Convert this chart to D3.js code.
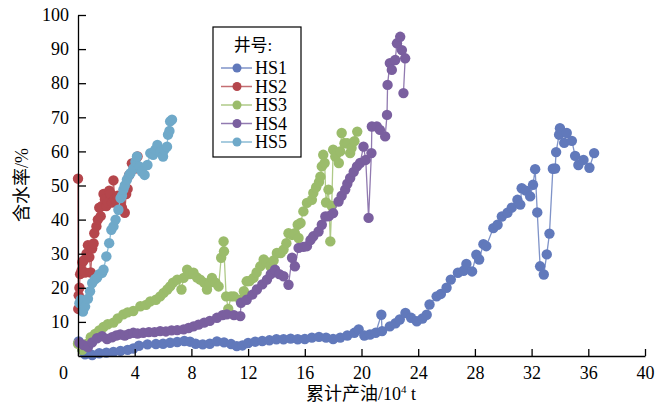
<!DOCTYPE html>
<html>
<head>
<meta charset="utf-8">
<script src="https://cdn.jsdelivr.net/npm/d3@7"></script>
<style>
  body { margin: 0; background: #fff; }
  text { font-family: "Liberation Serif", "Noto Sans CJK SC", serif; fill: #000; }
  .cjk { font-family: "Liberation Serif", "Noto Sans CJK SC", serif; }
</style>
</head>
<body>
<div id="chart"></div>
<script>
// tick values
var xTicks = [0, 4, 8, 12, 16, 20, 24, 28, 32, 36, 40];
var yTicks = [10, 20, 30, 40, 50, 60, 70, 80, 90, 100];

// well names
var wells = ["HS1", "HS2", "HS3", "HS4", "HS5"];

// cumulative oil (10^4 t) and water cut (%) per well
var hs1X = [0.05, 0.3, 0.5, 1, 1.5, 2, 2.5, 3, 3.5, 3.9, 4.3, 4.9, 5.5, 6, 6.5, 7, 7.5, 7.9, 8.3, 8.8, 9.3, 9.8, 10.3, 10.8, 11.2, 11.6, 12, 12.5, 13, 13.5, 14, 14.5, 15, 15.5, 16, 16.5, 17, 17.5, 18, 18.5, 19, 19.5, 19.8, 20.2, 20.6, 21, 21.4, 21.45, 22, 22.4, 22.7, 23.1, 23.5, 23.9, 24.3, 24.6, 24.8, 25.3, 25.6, 26, 26.3, 26.8, 27.2, 27.4, 27.8, 28.1, 28.3, 28.6, 28.8, 29.3, 29.6, 29.9, 30.3, 30.6, 31, 31.2, 31.3, 31.6, 31.9, 32.1, 32.25, 32.4, 32.6, 32.86, 33.07, 33.26, 33.5, 33.66, 33.73, 33.94, 34, 34.3, 34.48, 34.84, 35.07, 35.3, 35.66, 36.08, 36.41];
var hs1Y = [4.3, 2, 0.5, 0.3, 0.8, 1, 1.2, 1.5, 1.8, 2.2, 3, 3.4, 3.5, 3.6, 3.9, 4.1, 4.4, 4.2, 3.6, 3.4, 3.6, 4.3, 4, 3.5, 2.9, 3.1, 3.8, 4.2, 4.4, 4.6, 4.9, 4.9, 5.1, 4.9, 5, 5.4, 5.6, 5.4, 5, 5.4, 6, 6.8, 7.8, 6, 6.3, 6.8, 12.1, 7.3, 8.7, 9.6, 10.7, 12.6, 11.2, 10.2, 11, 12.1, 15.1, 17.5, 18.2, 20, 22.4, 24.4, 25, 27, 24.8, 29.7, 28.3, 32.8, 32.2, 37.5, 38.5, 40.9, 42, 43.5, 45.8, 44.4, 49.2, 48.5, 46.8, 50.2, 54.8, 42.1, 26.3, 23.9, 29.8, 35.9, 54.9, 55, 59.8, 64.9, 66.8, 62.5, 65.4, 63.1, 58.7, 56, 57.5, 55.2, 59.5];

var hs2X = [0, 0.02, 0.05, 0.1, 0.15, 0.25, 0.3, 0.4, 0.5, 0.6, 0.7, 0.8, 0.9, 1, 1.1, 1.15, 1.3, 1.4, 1.5, 1.6, 1.7, 1.8, 1.9, 2, 2.1, 2.2, 2.3, 2.4, 2.5, 2.6, 2.7, 2.8, 2.9, 3, 3.1, 3.3, 3.4, 3.5, 3.6, 3.8, 4, 4.2];
var hs2Y = [52, 13.8, 17.8, 20, 24, 25, 27.5, 28, 24.5, 30, 32.5, 29, 24.5, 31.5, 33, 36, 38, 40, 43.5, 41, 44, 47.5, 46, 44, 45, 48.5, 47.5, 45, 51.5, 46, 45.5, 47, 44, 45, 43.5, 42, 47.5, 49, 53, 56.5, 55, 58.5];

var hs3X = [0, 0.3, 0.6, 0.9, 1.2, 1.5, 1.8, 2.1, 2.5, 2.8, 3.2, 3.5, 3.9, 4.4, 4.8, 5.1, 5.5, 5.8, 6.04, 6.3, 6.5, 6.7, 7, 7.3, 7.45, 7.7, 7.9, 8.15, 8.4, 8.62, 8.9, 9.1, 9.3, 9.45, 9.7, 9.92, 10.1, 10.27, 10.3, 10.45, 10.6, 10.8, 11, 11.45, 11.7, 11.9, 12.1, 12.38, 12.6, 12.86, 13.1, 13.3, 13.56, 13.8, 14.03, 14.3, 14.5, 14.7, 14.85, 15.1, 15.3, 15.56, 15.5, 15.7, 15.9, 16.15, 16.5, 16.6, 16.8, 17, 17.1, 17.2, 17.3, 17.4, 17.5, 17.67, 17.8, 17.9, 18, 18.15, 18.27, 18.4, 18.5, 18.6, 18.8, 19, 19.2, 19.3, 19.5, 19.7];
var hs3Y = [3.6, 1.8, 3.5, 5.5, 6.5, 7.5, 8.5, 9.3, 9.8, 11, 12.2, 12.8, 13.2, 14.6, 15, 16, 16.5, 17.5, 18.5, 19.5, 20.4, 21.5, 22.4, 19.5, 22.9, 25.3, 24, 24.4, 23, 22.4, 21.5, 19.5, 21.5, 22.9, 21.5, 20.4, 28.8, 33.6, 30.7, 17.5, 13.8, 17.5, 17.5, 16.5, 19, 21.9, 22, 22.9, 24.5, 26.3, 28.3, 27.5, 26.3, 28, 30.2, 30.2, 31.2, 33.1, 36, 35.5, 36, 34.6, 38.5, 39, 42.4, 44.9, 45.8, 47.8, 49.5, 51, 52.6, 55.6, 59, 56.6, 45, 48.8, 33.6, 44, 60.5, 58.5, 59.5, 56.6, 60, 65.4, 62.4, 62.4, 59.5, 61, 63, 65.8];

var hs4X = [0.1, 0.4, 0.7, 1, 1.34, 1.7, 2.05, 2.4, 2.7, 2.98, 3.3, 3.6, 3.9, 4.2, 4.6, 5, 5.4, 5.8, 6.2, 6.6, 7, 7.45, 7.8, 8.15, 8.5, 8.9, 9.3, 9.8, 10.2, 10.5, 11, 11.45, 11.5, 11.9, 12.3, 12.62, 13, 13.33, 13.6, 13.9, 14.2, 14.5, 14.85, 15.1, 15.3, 15.56, 15.9, 16.15, 16.4, 16.6, 16.97, 17.2, 17.45, 17.7, 18, 18.38, 18.6, 18.85, 19, 19.2, 19.45, 19.68, 19.9, 20.14, 20.3, 20.5, 20.7, 20.73, 21.08, 21.3, 21.67, 21.8, 21.84, 22, 22.14, 22.38, 22.5, 22.73, 22.85, 23.08, 22.96];
var hs4Y = [3.9, 3.2, 2.6, 4, 5.2, 5.8, 5, 5.5, 6, 6.3, 6, 6.5, 6.8, 6.6, 6.8, 7, 7, 7.3, 7.2, 7.5, 7.6, 7.8, 8.2, 8.7, 9.2, 9.8, 10.3, 11.2, 12, 12.2, 12, 11.7, 15.6, 16.5, 18, 19.5, 21, 22.4, 24, 25.3, 24, 23.4, 20.9, 28.8, 26.3, 31.7, 32, 32.2, 34, 35.1, 36.5, 38.5, 40.9, 41, 41.9, 45.3, 47, 48.8, 50.5, 52.2, 54, 55.6, 56.6, 61.4, 57.5, 40.5, 59.5, 67.3, 67.3, 66.3, 64.4, 70.7, 79.5, 85.9, 83.9, 86.8, 91.7, 93.6, 89.7, 87.3, 77.1];

var hs5X = [0.1, 0.2, 0.35, 0.5, 0.7, 0.85, 1, 1.2, 1.35, 1.5, 1.7, 1.8, 2, 2.2, 2.35, 2.5, 2.65, 2.85, 3, 3.1, 3.2, 3.3, 3.45, 3.6, 3.7, 3.9, 4.05, 4.16, 4.35, 4.5, 4.7, 4.9, 5.1, 5.3, 5.45, 5.6, 5.8, 6, 6.1, 6.28, 6.35, 6.45, 6.5, 6.63];
var hs5Y = [15.5, 16.5, 13, 14.5, 16.8, 19, 21.4, 22.5, 23, 24, 24.4, 25.3, 29.2, 33.1, 37, 38, 40, 42.9, 46.3, 47, 48.8, 50, 51.7, 53, 53.6, 55, 57, 58.5, 55.5, 54.1, 53.1, 56, 59.5, 59, 60.5, 61.9, 60, 58.5, 60.5, 61.4, 64.9, 66, 68.8, 69.3];

var seriesX = [hs1X, hs2X, hs3X, hs4X, hs5X];
var seriesY = [hs1Y, hs2Y, hs3Y, hs4Y, hs5Y];
var dotColors = ["#6179bb", "#b5464c", "#9bbc6b", "#7a5f9f", "#6fa9c9"];
var lineColors = ["#7f93c8", "#c46e72", "#afca88", "#917ab0", "#8bbbd5"];

var svgWidth = 669;
var svgHeight = 411;

var margin = { top: 15, right: 24, bottom: 55, left: 78 };
var width = svgWidth - margin.left - margin.right;
var height = svgHeight - margin.top - margin.bottom;

var svg = d3.select("#chart")
    .append("svg")
    .attr("width", svgWidth)
    .attr("height", svgHeight);

var chartGroup = svg.append("g")
    .attr("transform", `translate(${margin.left}, ${margin.top})`);

// scales
var xScale = d3.scaleLinear().domain([0, 40]).range([0, width]);
var yScale = d3.scaleLinear().domain([0, 100]).range([height, 0]);

// series: thin connecting line, then dots
var line = d3.line()
    .x(d => xScale(d[0]))
    .y(d => yScale(d[1]));

wells.forEach(function(name, i) {
    var pts = seriesX[i].map((x, j) => [x, seriesY[i][j]]);
    var g = chartGroup.append("g").attr("class", "series " + name);
    g.append("path")
        .datum(pts)
        .attr("d", line)
        .attr("fill", "none")
        .attr("stroke", lineColors[i])
        .attr("stroke-width", 1.3);
    g.selectAll("circle")
        .data(pts)
        .enter()
        .append("circle")
        .attr("cx", d => xScale(d[0]))
        .attr("cy", d => yScale(d[1]))
        .attr("r", 5.2)
        .attr("fill", dotColors[i]);
});

// axes
var xAxis = d3.axisBottom(xScale)
    .tickValues(xTicks)
    .tickSizeInner(-7)
    .tickSizeOuter(0)
    .tickPadding(10);
var yAxis = d3.axisLeft(yScale)
    .tickValues(yTicks)
    .tickSizeInner(-8)
    .tickSizeOuter(0)
    .tickPadding(9);

var xg = chartGroup.append("g")
    .attr("transform", `translate(0, ${height})`)
    .call(xAxis);
var yg = chartGroup.append("g")
    .call(yAxis);

[xg, yg].forEach(function(g) {
    g.selectAll("path, line").attr("stroke", "#000").attr("stroke-width", 1.3);
    g.selectAll("text")
        .style("font-family", "'Liberation Serif', serif")
        .style("font-size", "18px")
        .attr("fill", "#000");
});
// the 0 label sits left of the origin
xg.selectAll(".tick text").filter(d => d === 0).attr("x", -15);

// axis titles
chartGroup.append("text")
    .attr("transform", "rotate(-90)")
    .attr("x", -170)
    .attr("y", -50)
    .attr("text-anchor", "middle")
    .style("font-size", "18px")
    .text("含水率/%");

var xTitle = chartGroup.append("text")
    .attr("x", 283)
    .attr("y", height + 44)
    .attr("text-anchor", "middle")
    .style("font-size", "18px");
xTitle.append("tspan").text("累计产油/10");
xTitle.append("tspan").attr("dy", -7).style("font-size", "11px").text("4");
xTitle.append("tspan").attr("dy", 7).text(" t");

// legend
var legend = svg.append("g").attr("transform", "translate(213, 27)");
legend.append("rect")
    .attr("width", 88)
    .attr("height", 130)
    .attr("fill", "#fff")
    .attr("stroke", "#000")
    .attr("stroke-width", 1.2);
legend.append("text")
    .attr("x", 40)
    .attr("y", 24)
    .attr("text-anchor", "middle")
    .style("font-size", "17px")
    .text("井号:");

wells.forEach(function(name, i) {
    var yy = 41 + i * 18.5;
    legend.append("line")
        .attr("x1", 8).attr("x2", 39)
        .attr("y1", yy).attr("y2", yy)
        .attr("stroke", lineColors[i])
        .attr("stroke-width", 1.5);
    legend.append("circle")
        .attr("cx", 24).attr("cy", yy).attr("r", 4.5)
        .attr("fill", dotColors[i]);
    legend.append("text")
        .attr("x", 42).attr("y", yy + 6)
        .style("font-size", "18px")
        .text(name);
});
</script>
</body>
</html>
